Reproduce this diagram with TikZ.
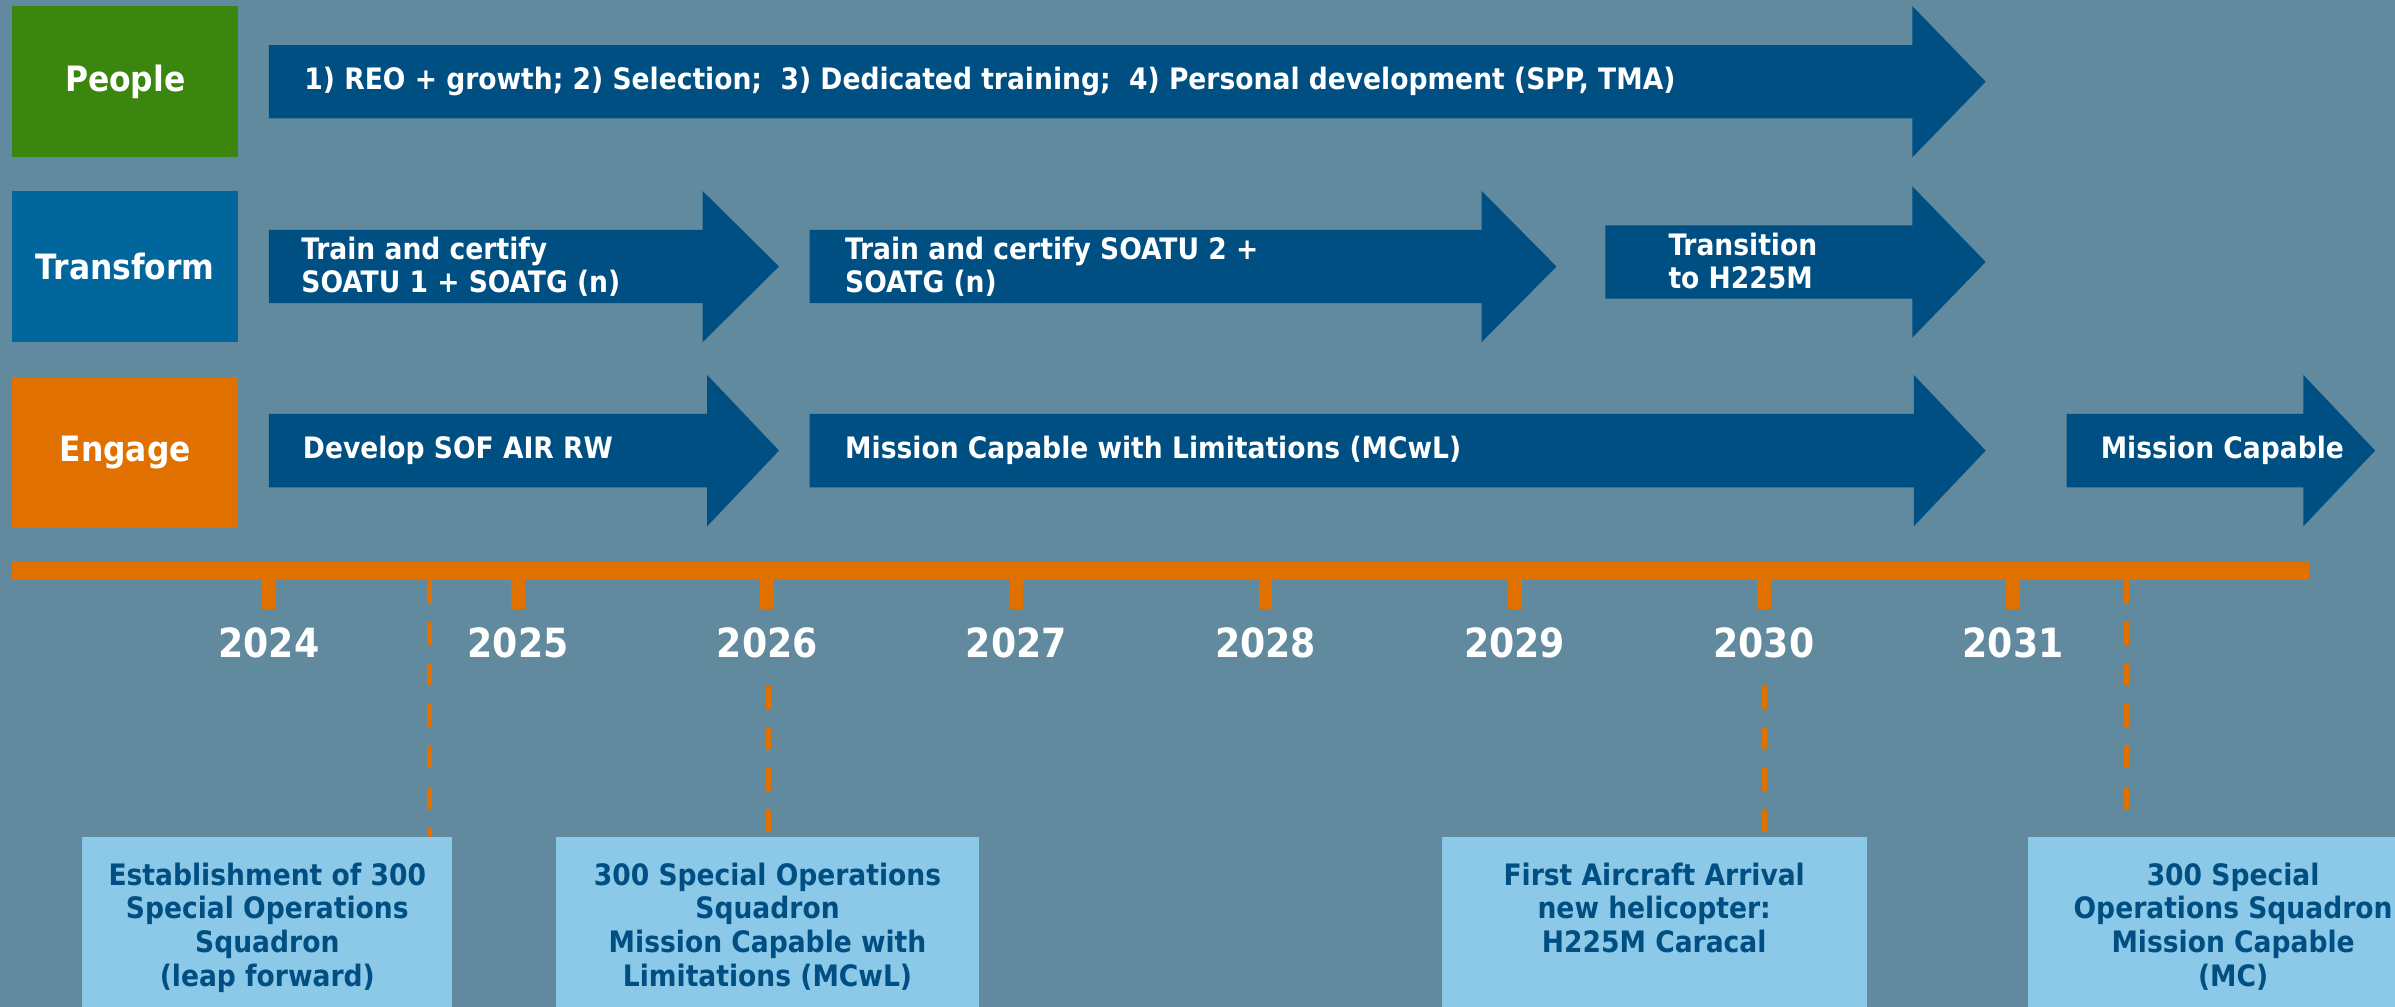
\documentclass[tikz,border=0pt]{standalone}
\usepackage{fontspec}
\setmainfont{DejaVu Sans Condensed}
\usetikzlibrary{positioning}

\definecolor{slate}{HTML}{618A9E}
\definecolor{peoplegreen}{HTML}{3A860F}
\definecolor{transblue}{HTML}{00669C}
\definecolor{engorange}{HTML}{E07000}
\definecolor{arrowblue}{HTML}{004F82}
\definecolor{eventblue}{HTML}{8CC8E8}

% left end, start of head, tip, centre line
\newcommand{\phasearrow}[4]{%
  \fill[arrowblue] (#1,#4-24) -- (#2,#4-24) -- (#2,#4-49.5) -- (#3,#4)
    -- (#2,#4+49.5) -- (#2,#4+24) -- (#1,#4+24) -- cycle;}

\tikzset{
  lane/.style={minimum width=29.6mm, minimum height=19.8mm, inner sep=0,
    text=white, font=\fontsize{13}{15}\selectfont\bfseries},
  phase/.style={anchor=west, align=left, inner sep=0, text=white,
    font=\fontsize{11}{12.5}\selectfont\bfseries},
  year/.style={text=white, font=\fontsize{15}{18}\selectfont\bfseries},
  eventbox/.style={fill=eventblue, minimum height=26.4mm, inner sep=0},
  eventtext/.style={anchor=north, align=center, inner sep=0, text=arrowblue,
    font=\fontsize{11}{12.5}\selectfont\bfseries},
  milestone/.style={engorange, line width=0.7mm, dash pattern=on 3mm off 2.4mm}
}

\begin{document}
\begin{tikzpicture}[x=0.2mm,y=-0.2mm]
  \fill[slate] (0,0) rectangle (1568,659);
  \useasboundingbox (0,0) rectangle (1568,659);

  % lanes
  \node[lane, fill=peoplegreen] (people) at (82,53.5) {People};
  \node[lane, fill=transblue] (transform) at (82,174.5) {Transform};
  \node[lane, fill=engorange] (engage) at (82,296) {Engage};

  % people
  \phasearrow{176}{1252}{1300}{53.5}
  \node[phase] (reo) at (199,53.5) {1) REO + growth; 2) Selection;~ 3) Dedicated training;~ 4) Personal development (SPP, TMA)};

  % transform
  \phasearrow{176}{460}{510}{174.5}
  \phasearrow{530}{970}{1019}{174.5}
  \phasearrow{1051}{1252}{1300}{171.5}
  \node[phase] (cert1) at (197,174.5) {Train and certify\\SOATU 1 + SOATG (n)};
  \node[phase] (cert2) at (553,174.5) {Train and certify SOATU 2 +\\SOATG (n)};
  \node[phase] (trans) at (1092,171) {Transition\\to H225M};

  % engage
  \phasearrow{176}{463}{510}{295}
  \phasearrow{530}{1253}{1300}{295}
  \phasearrow{1353}{1508}{1555}{295}
  \node[phase] (dev) at (198,295) {Develop SOF AIR RW};
  \node[phase] (mcwl) at (553,295) {Mission Capable with Limitations (MCwL)};
  \node[phase] (mc) at (1375,295) {Mission Capable};

  % timeline
  \fill[engorange] (8,367) rectangle (1512,380);
  \foreach \yr [count=\i from 0] in {2024,...,2031} {
    \fill[engorange] (176+163.14*\i-4.5,380) rectangle (176+163.14*\i+4.5,399);
    \node[year] (y\yr) at (176+163.14*\i,421) {\yr};
  }

  % events
  \node[eventbox, minimum width=48.4mm] (est) at (175,614) {};
  \node[eventbox, minimum width=55.4mm] (mcwlbox) at (502.5,614) {};
  \node[eventbox, minimum width=55.6mm] (arrival) at (1083,614) {};
  \node[eventbox, minimum width=52mm] (mcbox) at (1458,614) {};

  \node[eventtext] (esttxt) at ([yshift=-3.4mm]est.north) {Establishment of 300\\Special Operations\\Squadron\\(leap forward)};
  \node[eventtext] (mcwltxt) at ([yshift=-3.4mm]mcwlbox.north) {300 Special Operations\\Squadron\\Mission Capable with\\Limitations (MCwL)};
  \node[eventtext] (arrtxt) at ([yshift=-3.4mm]arrival.north) {First Aircraft Arrival\\new helicopter:\\H225M Caracal};
  \node[eventtext] (mctxt) at ([yshift=-3.4mm,xshift=0.8mm]mcbox.north) {300 Special\\Operations Squadron\\Mission Capable\\(MC)};

  \coordinate (m1) at (281,380);
  \coordinate (m2) at (503,449);
  \coordinate (m3) at (1155,449);
  \coordinate (m4) at (1392,380);
  \draw[milestone] (m1) -- (m1 |- est.north);
  \draw[milestone] (m2) -- ([yshift=0.6mm]m2 |- mcwlbox.north);
  \draw[milestone] (m3) -- ([yshift=0.6mm]m3 |- arrival.north);
  \draw[milestone] (m4) -- ([yshift=2.6mm]m4 |- mcbox.north);
\end{tikzpicture}
\end{document}
